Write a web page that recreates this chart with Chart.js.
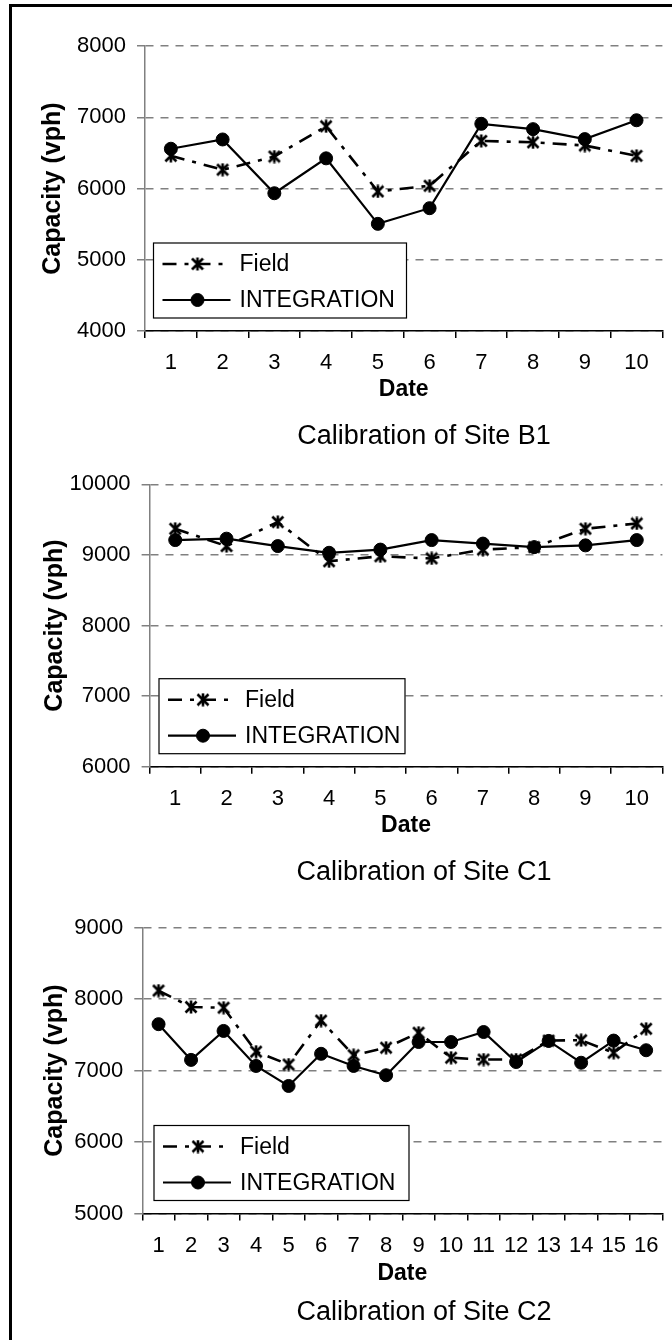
<!DOCTYPE html>
<html>
<head>
<meta charset="utf-8">
<script src="https://cdn.jsdelivr.net/npm/chart.js@4"></script>
<style>
  html, body { margin: 0; padding: 0; background: #fff; }
  body { width: 672px; height: 1340px; position: relative; overflow: hidden; }
  #frame { position: absolute; left: 9px; top: 4px; width: 720px; height: 1400px;
           border-left: 3px solid #000; border-top: 3px solid #000; }
  .box { position: absolute; left: 12px; width: 660px; }
</style>
</head>
<body>
<div id="frame"></div>
<div class="box" style="top:8px;height:452px"><canvas id="chartB1"></canvas></div>
<div class="box" style="top:460px;height:440px"><canvas id="chartC1"></canvas></div>
<div class="box" style="top:900px;height:440px"><canvas id="chartC2"></canvas></div>
<script>
// Site B1
const datesB1 = ['1', '2', '3', '4', '5', '6', '7', '8', '9', '10'];
const fieldB1 = [6460, 6265, 6450, 6875, 5960, 6040, 6670, 6650, 6605, 6460];
const integrationB1 = [6560, 6690, 5935, 6425, 5505, 5725, 6910, 6835, 6695, 6960];

// Site C1
const datesC1 = ['1', '2', '3', '4', '5', '6', '7', '8', '9', '10'];
const fieldC1 = [9370, 9125, 9465, 8910, 8980, 8950, 9075, 9110, 9370, 9445];
const integrationC1 = [9210, 9230, 9125, 9030, 9075, 9210, 9160, 9110, 9135, 9210];

// Site C2
const datesC2 = ['1', '2', '3', '4', '5', '6', '7', '8', '9', '10', '11', '12', '13', '14', '15', '16'];
const fieldC2 = [8120, 7890, 7880, 7265, 7085, 7700, 7215, 7320, 7530, 7180, 7155, 7155, 7420, 7425, 7250, 7585];
const integrationC2 = [7650, 7150, 7555, 7065, 6785, 7235, 7065, 6935, 7400, 7400, 7540, 7120, 7415, 7110, 7420, 7285];

const FONT = '"Liberation Sans", Arial, sans-serif';
Chart.defaults.font.family = FONT;
Chart.defaults.color = '#000';

// asterisk marker like the old spreadsheet "star"
function makeStar() {
    const c = document.createElement('canvas');
    c.width = 14; c.height = 14;
    const g = c.getContext('2d');
    g.strokeStyle = '#000';
    g.lineWidth = 2.6;
    g.beginPath();
    g.moveTo(7, 0.5); g.lineTo(7, 13.5);
    g.moveTo(1.5, 1.5); g.lineTo(12.5, 12.5);
    g.moveTo(12.5, 1.5); g.lineTo(1.5, 12.5);
    g.stroke();
    return c;
}
const starMarker = makeStar();

// legend box sitting inside the plot, lower left
const boxLegend = {
    id: 'boxLegend',
    afterDraw(chart, args, opts) {
        const ctx = chart.ctx;
        const area = chart.chartArea;
        const x = area.left + opts.left;
        const y = area.bottom - opts.bottom - opts.height;
        ctx.save();
        ctx.fillStyle = '#fff';
        ctx.fillRect(x, y, opts.width, opts.height);
        ctx.strokeStyle = '#000';
        ctx.lineWidth = 1.2;
        ctx.strokeRect(x, y, opts.width, opts.height);
        chart.data.datasets.forEach((ds, i) => {
            const cy = y + opts.rows[i];
            ctx.setLineDash(ds.borderDash || []);
            ctx.lineWidth = ds.borderWidth;
            ctx.strokeStyle = ds.borderColor;
            ctx.beginPath();
            ctx.moveTo(x + 9, cy);
            ctx.lineTo(x + 77, cy);
            ctx.stroke();
            ctx.setLineDash([]);
            ctx.fillStyle = '#000';
            ctx.lineWidth = 1;
            Chart.helpers.drawPoint(ctx, {pointStyle: ds.pointStyle, radius: ds.pointRadius, borderWidth: 1, rotation: 0}, x + 44, cy);
            ctx.font = '23px ' + FONT;
            ctx.textBaseline = 'middle';
            ctx.textAlign = 'left';
            ctx.fillText(ds.label, x + 86, cy + 1);
        });
        ctx.restore();
    }
};

// site caption under the axis
const caption = {
    id: 'caption',
    afterDraw(chart, args, opts) {
        const ctx = chart.ctx;
        ctx.save();
        ctx.font = '27px ' + FONT;
        ctx.fillStyle = '#000';
        ctx.textAlign = 'center';
        ctx.textBaseline = 'middle';
        ctx.fillText(opts.text, opts.x, opts.y);
        ctx.restore();
    }
};

function makeChart(id, cfg) {
    return new Chart(document.getElementById(id), {
        type: 'line',
        data: {
            labels: cfg.labels,
            datasets: [
                {
                    label: 'Field',
                    data: cfg.field,
                    borderColor: '#000',
                    backgroundColor: '#000',
                    borderWidth: 2.6,
                    borderDash: [14, 8, 4, 8],
                    pointStyle: starMarker,
                    pointRadius: 7
                },
                {
                    label: 'INTEGRATION',
                    data: cfg.integration,
                    borderColor: '#000',
                    backgroundColor: '#000',
                    borderWidth: 2.2,
                    pointStyle: 'circle',
                    pointRadius: 6.5,
                    pointBorderWidth: 1
                }
            ]
        },
        options: {
            responsive: true,
            maintainAspectRatio: false,
            animation: false,
            layout: { padding: { top: cfg.padTop, bottom: cfg.padBottom, left: 0, right: 0 } },
            plugins: {
                legend: { display: false },
                tooltip: { enabled: false },
                caption: { text: cfg.caption, x: 412, y: cfg.captionY },
                boxLegend: { left: cfg.legendLeft, bottom: 13, width: cfg.legendWidth, height: 75, rows: [21, 57] }
            },
            scales: {
                x: {
                    offset: true,
                    grid: { offset: true, drawOnChartArea: false, drawTicks: true, tickLength: 7, color: '#000', lineWidth: 1.5 },
                    border: { color: '#000', width: 1.5 },
                    ticks: { font: { size: 22 }, color: '#000', padding: 12, maxRotation: 0, autoSkip: false },
                    title: { display: true, text: 'Date', font: { size: 23, weight: 'bold', lineHeight: 1 }, color: '#000', padding: 0 },
                    afterFit: s => { s.height = cfg.xHeight; }
                },
                y: {
                    min: cfg.min,
                    max: cfg.max,
                    ticks: { stepSize: 1000, font: { size: 22 }, color: '#000', padding: 11, callback: v => String(v) },
                    grid: { color: '#808080', lineWidth: 1.5, tickColor: '#808080', tickLength: 8 },
                    border: { color: '#808080', width: 1.5, dash: [8, 7] },
                    title: { display: true, text: 'Capacity (vph)', font: { size: 25, weight: 'bold', lineHeight: 1 }, color: '#000', padding: { top: cfg.yTitlePad, bottom: 0 } },
                    afterFit: s => { s.width = cfg.yWidth; }
                }
            }
        },
        plugins: [boxLegend, caption]
    });
}

makeChart('chartB1', {
    labels: datesB1, field: fieldB1, integration: integrationB1,
    min: 4000, max: 8000, padTop: 38.2, padBottom: 59, xHeight: 70,
    yWidth: 133, yTitlePad: 29, legendLeft: 8.5, legendWidth: 253,
    caption: 'Calibration of Site B1', captionY: 429
});

makeChart('chartC1', {
    labels: datesC1, field: fieldC1, integration: integrationC1,
    min: 6000, max: 10000, padTop: 24.3, padBottom: 63.3, xHeight: 70,
    yWidth: 137.6, yTitlePad: 31, legendLeft: 9.4, legendWidth: 246,
    caption: 'Calibration of Site C1', captionY: 413
});

makeChart('chartC2', {
    labels: datesC2, field: fieldC2, integration: integrationC2,
    min: 5000, max: 9000, padTop: 27.7, padBottom: 55, xHeight: 71.5,
    yWidth: 130.3, yTitlePad: 31, legendLeft: 11.7, legendWidth: 255,
    caption: 'Calibration of Site C2', captionY: 413
});
</script>
</body>
</html>
